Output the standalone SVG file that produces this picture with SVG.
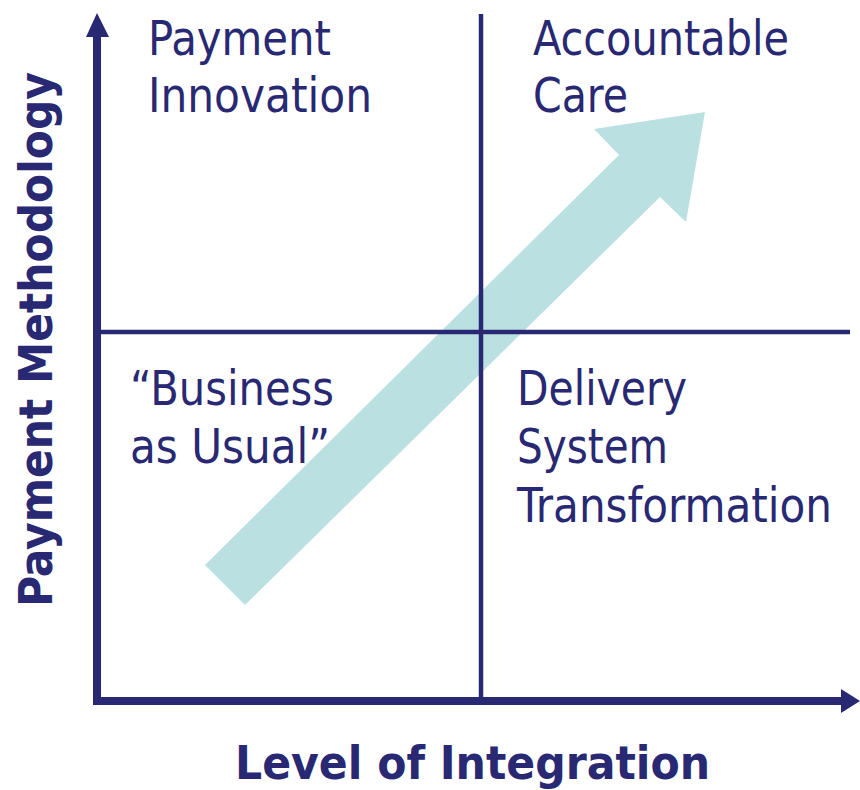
<svg xmlns="http://www.w3.org/2000/svg" width="860" height="790" viewBox="0 0 860 790">
<style>
.lbl{font-family:"DejaVu Sans Condensed","DejaVu Sans",Verdana,sans-serif;font-size:48px;fill:#282873;font-stretch:condensed}
.ax{font-family:"DejaVu Sans Condensed","DejaVu Sans",Verdana,sans-serif;font-size:47px;font-weight:bold;fill:#282873;font-stretch:condensed}
.axis{stroke:#282873;stroke-width:8;fill:none}
.grid{stroke:#282873;stroke-width:4.5;fill:none}
.head{fill:#282873}
</style>
<rect width="860" height="790" fill="#ffffff"/>
<g id="trend-arrow">
<polygon points="205,565 619,155 594,129 705,112 686,222 660,197 245,605" fill="#bae0e2"/>
</g>
<g id="connectors">
<line class="grid" x1="481" y1="14" x2="481" y2="701"/>
<line class="grid" x1="97" y1="332" x2="850" y2="332"/>
<line class="axis" x1="97" y1="34" x2="97" y2="705"/>
<polygon class="head" points="86,37 97,13 109,37"/>
<line class="axis" x1="93" y1="701" x2="843" y2="701"/>
<polygon class="head" points="841,689 860,701 841,713"/>
</g>
<g id="payment-innovation">
<text class="lbl" x="148" y="55" textLength="183" lengthAdjust="spacingAndGlyphs">Payment</text>
<text class="lbl" x="148" y="112" textLength="224" lengthAdjust="spacingAndGlyphs">Innovation</text>
</g>
<g id="accountable-care">
<text class="lbl" x="533" y="55" textLength="256" lengthAdjust="spacingAndGlyphs">Accountable</text>
<text class="lbl" x="533" y="112" textLength="95" lengthAdjust="spacingAndGlyphs">Care</text>
</g>
<g id="business-as-usual">
<text class="lbl" x="130" y="405" textLength="204" lengthAdjust="spacingAndGlyphs">“Business</text>
<text class="lbl" x="130" y="463" textLength="200" lengthAdjust="spacingAndGlyphs">as Usual”</text>
</g>
<g id="delivery-system-transformation">
<text class="lbl" x="517" y="405" textLength="170" lengthAdjust="spacingAndGlyphs">Delivery</text>
<text class="lbl" x="517" y="463" textLength="151" lengthAdjust="spacingAndGlyphs">System</text>
<text class="lbl" x="517" y="522" textLength="315" lengthAdjust="spacingAndGlyphs">Transformation</text>
</g>
<g id="x-axis-label">
<text class="ax" x="235" y="779" textLength="475" lengthAdjust="spacingAndGlyphs">Level of Integration</text>
</g>
<g id="y-axis-label">
<text class="ax" transform="translate(52,607) rotate(-90)" x="0" y="0" textLength="535" lengthAdjust="spacingAndGlyphs">Payment Methodology</text>
</g>
</svg>
